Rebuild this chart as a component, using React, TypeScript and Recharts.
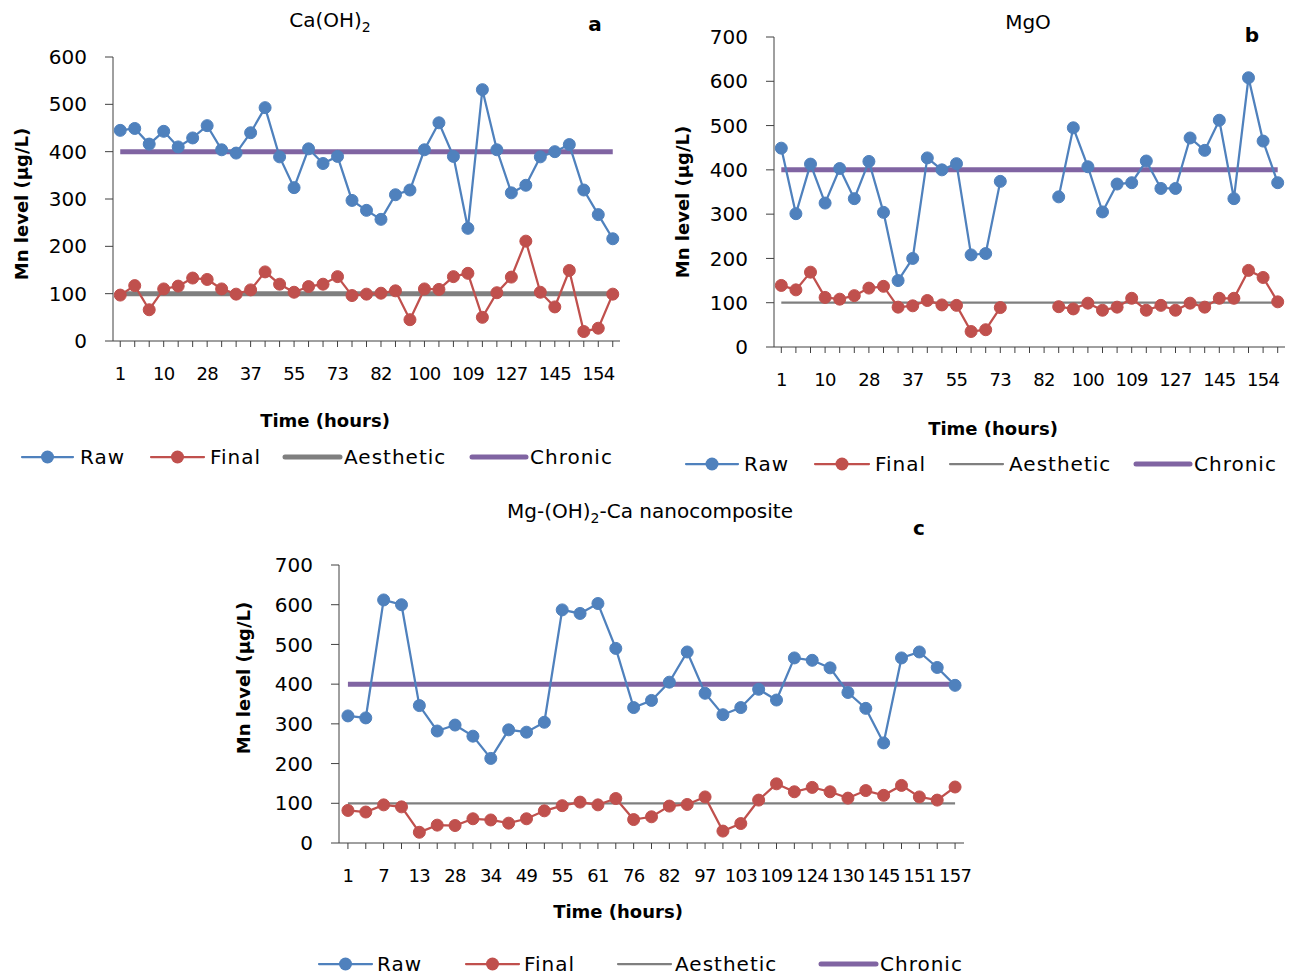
import React from "react"
import { Line, LineChart, XAxis, YAxis } from "recharts"

const FONT = "'DejaVu Sans', sans-serif"
const RAW = "#4f81bd"
const FINAL = "#c0504d"
const AESTHETIC = "#7f7f7f"
const CHRONIC = "#8064a2"
const AXIS = "#404040"

// guideline limits (µg/L)
const AESTHETIC_LIMIT = 100
const CHRONIC_LIMIT = 400

// (a) Ca(OH)2
const ticksA = ["1", "10", "28", "37", "55", "73", "82", "100", "109", "127", "145", "154"]
const rawA = [445, 449, 416, 443, 410, 429, 455, 404, 397, 440, 493, 389, 324, 406, 375, 390, 297, 276, 257, 309, 319, 404, 461, 390, 238, 531, 404, 313, 329, 389, 400, 415, 319, 267, 216]
const finalA = [97, 117, 66, 110, 116, 133, 130, 110, 99, 108, 146, 120, 103, 115, 120, 136, 96, 99, 101, 106, 45, 110, 109, 136, 143, 50, 102, 135, 211, 103, 72, 149, 20, 27, 99]

// (b) MgO, no readings at positions 17-19
const ticksB = ["1", "10", "28", "37", "55", "73", "82", "100", "109", "127", "145", "154"]
const rawB = [449, 301, 413, 325, 403, 335, 419, 304, 150, 200, 427, 400, 414, 208, 211, 374, null, null, null, 339, 495, 407, 305, 368, 371, 420, 358, 358, 472, 444, 512, 335, 608, 465, 371]
const finalB = [139, 129, 169, 112, 108, 116, 133, 137, 90, 93, 105, 95, 94, 35, 39, 89, null, null, null, 91, 86, 99, 83, 90, 110, 83, 94, 83, 99, 90, 110, 110, 173, 157, 102]

// (c) Mg-(OH)2-Ca nanocomposite
const ticksC = ["1", "7", "13", "28", "34", "49", "55", "61", "76", "82", "97", "103", "109", "124", "130", "145", "151", "157"]
const rawC = [320, 315, 612, 600, 346, 282, 297, 269, 213, 285, 279, 304, 587, 578, 603, 490, 341, 359, 405, 481, 377, 323, 341, 387, 360, 466, 460, 441, 379, 339, 252, 466, 481, 442, 397]
const finalC = [82, 78, 96, 91, 27, 45, 44, 61, 58, 50, 61, 81, 94, 103, 96, 112, 59, 66, 93, 97, 116, 30, 49, 108, 149, 129, 140, 129, 113, 132, 120, 145, 116, 108, 141]

const buildRows = (raw: (number | null)[], final: (number | null)[]) =>
  raw.map((r, i) => ({
    t: i,
    raw: r,
    final: final[i],
    aesthetic: AESTHETIC_LIMIT,
    chronic: CHRONIC_LIMIT,
  }))

type PanelProps = {
  rows: ReturnType<typeof buildRows>
  tickLabels: string[]
  step: number
  yMax: number
  left: number
  top: number
  width: number
  height: number
  margin: { top: number; right: number; bottom: number }
  yAxisWidth: number
  aestheticWidth: number
}

function Panel(p: PanelProps) {
  const yTicks: number[] = []
  for (let v = 0; v <= p.yMax; v += 100) yTicks.push(v)
  return (
    <div style={{ position: "absolute", left: p.left, top: p.top }}>
      <LineChart
        width={p.width}
        height={p.height}
        data={p.rows}
        margin={{ top: p.margin.top, right: p.margin.right, bottom: p.margin.bottom, left: 0 }}
      >
        <XAxis
          dataKey="t"
          scale="band"
          interval={0}
          height={40}
          tickSize={6}
          tickMargin={20}
          stroke={AXIS}
          tick={{ fill: "#000", fontSize: 18, fontFamily: FONT, letterSpacing: -0.7 }}
          tickFormatter={(v: number) => (v % p.step === 0 ? p.tickLabels[v / p.step] ?? "" : "")}
        />
        <YAxis
          type="number"
          domain={[0, p.yMax]}
          ticks={yTicks}
          width={p.yAxisWidth}
          tickSize={8}
          tickMargin={18}
          stroke={AXIS}
          tick={{ fill: "#000", fontSize: 20, fontFamily: FONT }}
        />
        <Line dataKey="aesthetic" stroke={AESTHETIC} strokeWidth={p.aestheticWidth} dot={false} isAnimationActive={false} />
        <Line dataKey="chronic" stroke={CHRONIC} strokeWidth={5} dot={false} isAnimationActive={false} />
        <Line
          dataKey="raw"
          stroke={RAW}
          strokeWidth={2.25}
          dot={{ r: 6, fill: RAW, stroke: RAW, strokeWidth: 1 }}
          isAnimationActive={false}
        />
        <Line
          dataKey="final"
          stroke={FINAL}
          strokeWidth={2.25}
          dot={{ r: 6, fill: FINAL, stroke: FINAL, strokeWidth: 1 }}
          isAnimationActive={false}
        />
      </LineChart>
    </div>
  )
}

function Caption({ x, y, children, size = 20, bold = false, rotate = false }: any) {
  return (
    <div
      style={{
        position: "absolute",
        left: x,
        top: y,
        transform: `translate(-50%, -50%)${rotate ? " rotate(-90deg)" : ""}`,
        fontSize: size,
        fontWeight: bold ? 700 : 400,
        fontFamily: FONT,
        lineHeight: 1,
        whiteSpace: "nowrap",
        color: "#000",
      }}
    >
      {children}
    </div>
  )
}

type LegendItem = { x0: number; x1: number; tx: number; label: string; color: string; w: number; dot: boolean }

function LegendRow({ y, items }: { y: number; items: LegendItem[] }) {
  return (
    <>
      {items.map((it) => (
        <React.Fragment key={it.label}>
          <svg
            width={it.x1 - it.x0 + 14}
            height={16}
            style={{ position: "absolute", left: it.x0 - 7, top: y - 8 }}
          >
            <line x1={7} x2={it.x1 - it.x0 + 7} y1={8} y2={8} stroke={it.color} strokeWidth={it.w} strokeLinecap="round" />
            {it.dot && <circle cx={(it.x1 - it.x0) / 2 + 7} cy={8} r={6.5} fill={it.color} />}
          </svg>
          <div
            style={{
              position: "absolute",
              left: it.tx,
              top: y,
              transform: "translateY(-50%)",
              fontSize: 20,
              fontFamily: FONT,
              lineHeight: 1,
              letterSpacing: 1,
              whiteSpace: "nowrap",
            }}
          >
            {it.label}
          </div>
        </React.Fragment>
      ))}
    </>
  )
}

const legendItems = (xs: number[][], aestheticWidth: number): LegendItem[] => [
  { x0: xs[0][0], x1: xs[0][1], tx: xs[0][2], label: "Raw", color: RAW, w: 2.25, dot: true },
  { x0: xs[1][0], x1: xs[1][1], tx: xs[1][2], label: "Final", color: FINAL, w: 2.25, dot: true },
  { x0: xs[2][0], x1: xs[2][1], tx: xs[2][2], label: "Aesthetic", color: AESTHETIC, w: aestheticWidth, dot: false },
  { x0: xs[3][0], x1: xs[3][1], tx: xs[3][2], label: "Chronic", color: CHRONIC, w: 5, dot: false },
]

export default function App() {
  return (
    <div style={{ position: "absolute", left: 0, top: 0, width: 1293, height: 977, overflow: "hidden", background: "#fff", fontFamily: FONT }}>
      {/* a */}
      <Panel
        rows={buildRows(rawA, finalA)}
        tickLabels={ticksA}
        step={3}
        yMax={600}
        left={0}
        top={0}
        width={640}
        height={420}
        margin={{ top: 57, right: 20, bottom: 39 }}
        yAxisWidth={113}
        aestheticWidth={5}
      />
      <Caption x={330} y={22}>Ca(OH)<sub style={{ fontSize: 14 }}>2</sub></Caption>
      <Caption x={595} y={24} bold>a</Caption>
      <Caption x={22} y={204} size={18} bold rotate>Mn level (µg/L)</Caption>
      <Caption x={325} y={421} size={18} bold>Time (hours)</Caption>
      <LegendRow y={457} items={legendItems([[22, 73, 80], [151, 204, 210], [285, 340, 344], [472, 526, 530]], 5)} />

      {/* b */}
      <Panel
        rows={buildRows(rawB, finalB)}
        tickLabels={ticksB}
        step={3}
        yMax={700}
        left={660}
        top={0}
        width={630}
        height={420}
        margin={{ top: 37, right: 5, bottom: 33 }}
        yAxisWidth={114}
        aestheticWidth={2.25}
      />
      <Caption x={1028} y={22}>MgO</Caption>
      <Caption x={1252} y={35} bold>b</Caption>
      <Caption x={683} y={202} size={18} bold rotate>Mn level (µg/L)</Caption>
      <Caption x={993} y={429} size={18} bold>Time (hours)</Caption>
      <LegendRow y={464} items={legendItems([[686, 738, 744], [815, 869, 875], [950, 1003, 1009], [1136, 1190, 1194]], 2.25)} />

      {/* c */}
      <Panel
        rows={buildRows(rawC, finalC)}
        tickLabels={ticksC}
        step={2}
        yMax={700}
        left={200}
        top={540}
        width={800}
        height={360}
        margin={{ top: 25, right: 36, bottom: 17 }}
        yAxisWidth={139}
        aestheticWidth={2.25}
      />
      <Caption x={650} y={513}>Mg-(OH)<sub style={{ fontSize: 14 }}>2</sub>-Ca nanocomposite</Caption>
      <Caption x={919} y={528} bold>c</Caption>
      <Caption x={244} y={678} size={18} bold rotate>Mn level (µg/L)</Caption>
      <Caption x={618} y={912} size={18} bold>Time (hours)</Caption>
      <LegendRow y={964} items={legendItems([[319, 372, 377], [466, 519, 524], [618, 671, 675], [821, 876, 880]], 2.25)} />
    </div>
  )
}
